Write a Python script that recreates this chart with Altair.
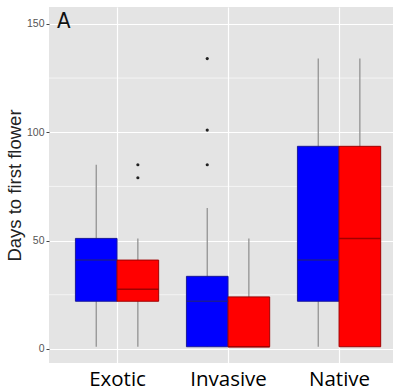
import altair as alt
import pandas as pd

categories = ["Exotic", "Invasive", "Native"]
groups = ["A", "B"]  # blue, red

cat_col = ["Exotic", "Exotic", "Invasive", "Invasive", "Native", "Native"]
grp_col = ["A", "B", "A", "B", "A", "B"]
lo_vals = [1, 1, 1, 1, 1, 1]
q1_vals = [22, 22, 1, 1, 22, 1]
med_vals = [41, 27.5, 22, 1, 41, 51]
q3_vals = [51, 41, 33.5, 24, 93.5, 93.5]
hi_vals = [85, 51, 65, 51, 134, 134]

out_cat = ["Exotic", "Exotic", "Invasive", "Invasive", "Invasive"]
out_grp = ["B", "B", "A", "A", "A"]
out_val = [85, 79, 85, 101, 134]

box_colors = {"A": "#0000FF", "B": "#FF0000"}
edge_colors = {"A": "#1A1A99", "B": "#A00000"}

HALF = 0.375

def pos(cat, grp):
    base = categories.index(cat) + 1
    left = base - HALF if grp == "A" else base
    return left, left + HALF, left + HALF / 2

rows = []
for c, g, lo, q1, md, q3, hi in zip(cat_col, grp_col, lo_vals, q1_vals, med_vals, q3_vals, hi_vals):
    l, r, m = pos(c, g)
    rows.append(dict(category=c, group=g, lo=lo, q1=q1, med=md, q3=q3, hi=hi,
                     xl=l, xr=r, xm=m))
df = pd.DataFrame(rows)

orows = []
for c, g, v in zip(out_cat, out_grp, out_val):
    l, r, m = pos(c, g)
    orows.append(dict(category=c, group=g, value=v, xm=m))
odf = pd.DataFrame(orows)

minor = pd.DataFrame({"y": [25, 75, 125]})

xscale = alt.Scale(domain=[0.387, 3.486], nice=False, zero=False)
yscale = alt.Scale(domain=[-6.5, 157.8], nice=False, zero=False)

label_expr = "datum.value == 1 ? 'Exotic' : datum.value == 2 ? 'Invasive' : 'Native'"

xaxis = alt.Axis(values=[1, 2, 3], labelExpr=label_expr, title=None, ticks=False,
                 domain=False, grid=True, gridColor="white", gridWidth=1.2,
                 labelFontSize=20.5, labelColor="black", labelFont="Open Sans",
                 labelPadding=6)
yaxis = alt.Axis(values=[0, 50, 100, 150], title="Days to first flower",
                 grid=True, gridColor="white", gridWidth=1.2, domain=False,
                 tickColor="#444", tickSize=3, labelColor="#555", labelFontSize=10.5,
                 labelFont="Liberation Sans", titleFont="Liberation Sans",
                 titleFontSize=18.5, titleFontWeight="normal", titleColor="#222",
                 titlePadding=2, labelPadding=2)

color_scale = alt.Scale(domain=list(box_colors.keys()), range=list(box_colors.values()))
edge_scale = alt.Scale(domain=list(edge_colors.keys()), range=list(edge_colors.values()))

base = alt.Chart(df)

minor_grid = alt.Chart(minor).mark_rule(color="white", strokeWidth=0.6).encode(
    y=alt.Y("y:Q", scale=yscale, axis=yaxis)
)

whiskers = base.mark_rule(color="#8C8C8C", strokeWidth=1.2).encode(
    x=alt.X("xm:Q", scale=xscale, axis=xaxis),
    y=alt.Y("lo:Q", scale=yscale, axis=yaxis),
    y2="hi:Q",
)

boxes = base.mark_rect(strokeWidth=1).encode(
    x=alt.X("xl:Q", scale=xscale, axis=xaxis),
    x2="xr:Q",
    y=alt.Y("q1:Q", scale=yscale, axis=yaxis),
    y2="q3:Q",
    fill=alt.Fill("group:N", scale=color_scale, legend=None),
    stroke=alt.Stroke("group:N", scale=edge_scale, legend=None),
)

medians = base.mark_rule(strokeWidth=1.5).encode(
    x=alt.X("xl:Q", scale=xscale, axis=xaxis),
    x2="xr:Q",
    y=alt.Y("med:Q", scale=yscale, axis=yaxis),
    color=alt.Color("group:N", scale=edge_scale, legend=None),
)

outliers = alt.Chart(odf).mark_circle(size=10, color="#222", opacity=1).encode(
    x=alt.X("xm:Q", scale=xscale, axis=xaxis),
    y=alt.Y("value:Q", scale=yscale, axis=yaxis),
)

panel_label = alt.Chart(pd.DataFrame({"t": ["A"]})).mark_text(
    fontSize=22, font="DejaVu Sans Condensed", color="#111", align="left", baseline="top"
).encode(text="t:N", x=alt.value(8), y=alt.value(4))

chart = alt.layer(minor_grid, whiskers, boxes, medians, outliers, panel_label).properties(
    width=344, height=356,
    autosize=alt.AutoSizeParams(type="none"),
    padding={"left": 49, "top": 7, "right": 4, "bottom": 29},
    background="white",
).configure_view(fill="#E4E4E4", stroke=None)

chart.save("out.html", embed_options={"renderer": "svg", "actions": False})
